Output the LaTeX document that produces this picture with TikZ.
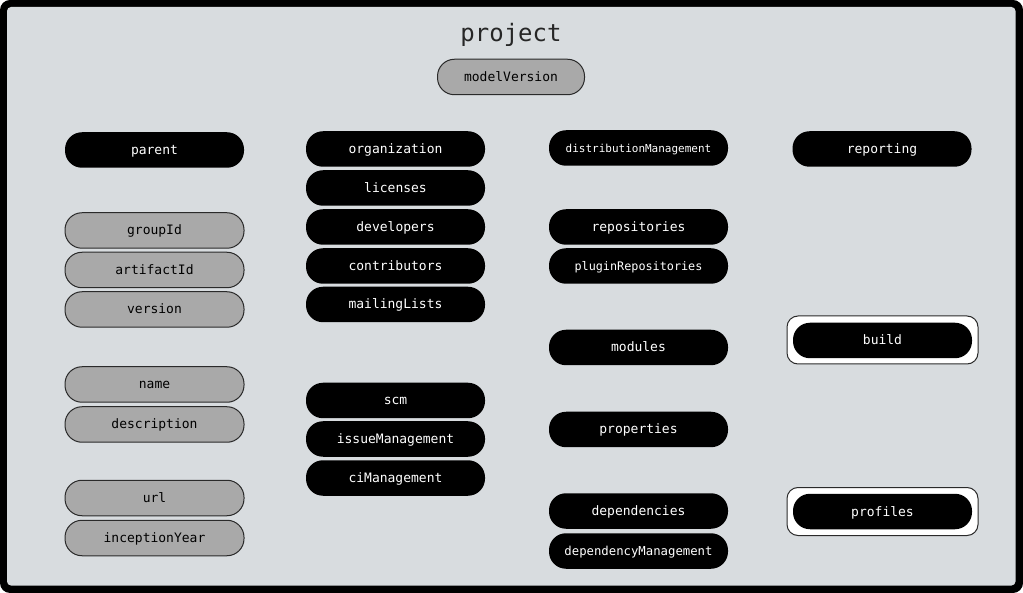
\documentclass[tikz,border=0pt]{standalone}
\usepackage{fontspec}
\setmonofont{DejaVu Sans Mono}
\definecolor{bgc}{HTML}{D8DCDF}
\definecolor{grayfill}{HTML}{A9A9A9}
\definecolor{edgec}{HTML}{2A2A2A}
\begin{document}
\begin{tikzpicture}[x=1pt,y=-1pt,
  pill/.style={rounded corners=17pt,minimum width=179pt,minimum height=35.5pt,inner sep=0pt,text height=11pt,text depth=2pt,font=\ttfamily\fontsize{13}{15}\selectfont},
  blk/.style={pill,fill=black,text=white},
  gry/.style={pill,fill=grayfill,draw=edgec,line width=1pt,text=black},
  frm/.style={draw=edgec,fill=white,line width=1pt,rounded corners=11pt,minimum width=191pt,minimum height=48pt,inner sep=0pt}
]
\useasboundingbox (0,0) rectangle (1023,593);
\fill[black,rounded corners=10pt] (0,0) rectangle (1023,593);
\fill[bgc,rounded corners=4pt] (7,7) rectangle (1015.5,585.5);
\node[font=\ttfamily\fontsize{24}{28}\selectfont,text=black!85] (title) at (511,35) {project};
\node[gry,minimum width=147pt] (mv) at (511,77) {modelVersion};
% column 1
\node[blk] (parent) at (154.5,150) {parent};
\node[gry] (groupId) at (154.5,230.5) {groupId};
\node[gry] (artifactId) at (154.5,270) {artifactId};
\node[gry] (version) at (154.5,309.5) {version};
\node[gry] (name) at (154.5,384.5) {name};
\node[gry] (desc) at (154.5,424.5) {description};
\node[gry] (url) at (154.5,498) {url};
\node[gry] (incep) at (154.5,538) {inceptionYear};
% column 2
\node[blk] (org) at (395.5,149) {organization};
\node[blk] (lic) at (395.5,188) {licenses};
\node[blk] (dev) at (395.5,227) {developers};
\node[blk] (contr) at (395.5,266) {contributors};
\node[blk] (mail) at (395.5,304.5) {mailingLists};
\node[blk] (scm) at (395.5,400.5) {scm};
\node[blk] (issue) at (395.5,439) {issueManagement};
\node[blk] (ci) at (395.5,478) {ciManagement};
% column 3
\node[blk,font=\ttfamily\fontsize{11}{13}\selectfont] (dist) at (638.5,148) {distributionManagement};
\node[blk] (repo) at (638.5,227) {repositories};
\node[blk,font=\ttfamily\fontsize{11.8}{14}\selectfont] (plug) at (638.5,266) {pluginRepositories};
\node[blk] (mod) at (638.5,347.5) {modules};
\node[blk] (prop) at (638.5,429.5) {properties};
\node[blk] (deps) at (638.5,511) {dependencies};
\node[blk,font=\ttfamily\fontsize{12.3}{14}\selectfont] (depm) at (638.5,551) {dependencyManagement};
% column 4
\node[blk] (rep) at (882,149) {reporting};
\node[frm] (buildf) at (882.5,340) {};
\node[blk] (build) at (882.5,340.5) {build};
\node[frm] (proff) at (882.5,511.5) {};
\node[blk] (prof) at (882.5,511.5) {profiles};
\end{tikzpicture}
\end{document}
